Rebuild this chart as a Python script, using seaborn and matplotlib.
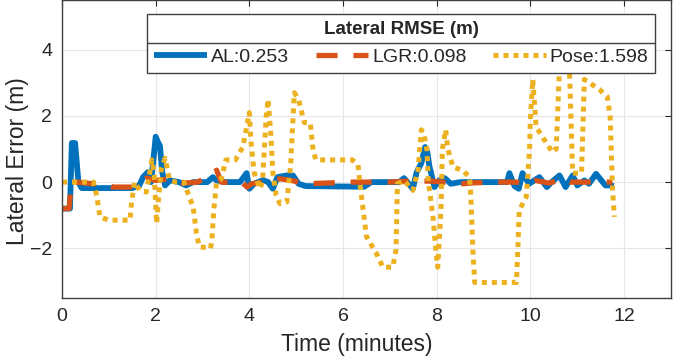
import numpy as np
import pandas as pd
import matplotlib
matplotlib.use("Agg")
import matplotlib.pyplot as plt
import seaborn as sns
from matplotlib.lines import Line2D

# AL (solid blue)
al_t = [0, 0.17, 0.21, 0.28, 0.35, 0.42, 1.5, 1.65, 1.73, 1.83, 1.9, 1.96, 2.0, 2.05,
        2.09, 2.14, 2.2, 2.3, 2.5, 2.65, 2.8, 3.1, 3.22, 3.3, 3.5, 3.8, 3.94, 4.0, 4.1,
        4.29, 4.4, 4.5, 4.6, 4.79, 4.93, 5.05, 5.2, 6.45, 6.6, 7.2, 7.3, 7.49, 7.57,
        7.67, 7.75, 7.8, 7.84, 7.95, 8.06, 8.17, 8.3, 8.5, 9.5, 9.55, 9.66, 9.75, 9.83,
        9.97, 10.19, 10.35, 10.45, 10.62, 10.75, 10.9, 11.0, 11.15, 11.25, 11.4, 11.6,
        11.7, 11.78]
al_y = [-0.8, -0.8, 1.18, 1.18, 0.0, -0.18, -0.18, -0.1, 0.15, 0.3, 0.0, 0.8, 1.37,
        1.2, 1.1, 0.3, -0.1, 0.05, 0.0, -0.1, 0.0, 0.0, 0.15, 0.05, 0.0, 0.0, 0.27,
        -0.2, -0.05, 0.06, 0.0, -0.2, 0.15, 0.2, 0.2, -0.05, -0.12, -0.14, 0.0, 0.0,
        0.12, -0.2, 0.3, 0.57, 1.06, 0.9, 0.5, -0.15, 0.06, 0.12, -0.05, 0.0, 0.0, 0.27,
        -0.12, -0.2, 0.27, -0.05, 0.15, -0.15, 0.0, 0.2, -0.15, 0.2, -0.1, 0.05, -0.05,
        0.25, -0.1, -0.1, -0.12]

# LGR (dashed red)
lgr_t = [0, 0.15, 0.2, 0.31, 0.65, 0.9, 1.09, 1.5, 1.8, 2.0, 2.3, 2.58, 2.9, 3.22,
         3.3, 3.4, 3.86, 3.95, 4.05, 4.29, 4.65, 4.9, 5.2, 5.6, 6.14, 6.43, 7.0, 7.42,
         7.9, 8.1, 8.55, 8.8, 9.4, 9.7, 9.9, 10.1, 10.4, 10.7, 10.85, 11.26, 11.6, 11.75]
lgr_y = [-0.8, -0.8, 0.0, 0.0, -0.05, -0.05, -0.15, -0.15, 0.12, 0.05, 0.1, -0.03, 0.0,
         0.27, 0.36, 0.0, -0.03, -0.15, -0.05, 0.0, 0.1, 0.05, -0.05, -0.03, 0.0, 0.0,
         0.0, 0.03, 0.03, 0.0, -0.05, -0.02, 0.0, 0.0, -0.05, 0.05, -0.03, 0.1, 0.0,
         0.0, 0.0, 0.0]

# Pose (dotted yellow)
pose_t = [0, 0.67, 0.74, 0.81, 1.0, 1.45, 1.49, 1.55, 1.66, 1.8, 1.92, 1.97, 2.02, 2.06,
          2.12, 2.2, 2.3, 2.44, 2.6, 2.8, 2.87, 2.93, 3.17, 3.2, 3.24, 3.3, 3.4, 3.5,
          3.7, 3.86, 4.0, 4.03, 4.1, 4.22, 4.28, 4.36, 4.4, 4.46, 4.5, 4.57, 4.65, 4.8,
          4.88, 4.96, 5.05, 5.17, 5.3, 5.36, 5.42, 6.2, 6.32, 6.36, 6.5, 6.71, 6.85, 7.06,
          7.13, 7.16, 7.3, 7.49, 7.6, 7.67, 7.72, 7.79, 7.82, 7.92, 7.98, 8.02, 8.09,
          8.12, 8.19, 8.24, 8.35, 8.55, 8.7, 8.73, 8.77, 8.81, 9.7, 9.73, 9.76, 9.91,
          9.98, 10.0, 10.05, 10.12, 10.34, 10.47, 10.55, 10.62, 10.72, 10.83, 10.9,
          11.09, 11.15, 11.47, 11.64, 11.7, 11.75, 11.79]
pose_y = [0, 0, -0.4, -1.05, -1.15, -1.15, -0.55, 0.0, -0.25, -0.3, 0.67, 0.2, -1.25,
          -0.5, 0.4, 0.72, 0.05, 0.0, 0.0, -0.75, -1.55, -1.95, -2.0, -1.75, -0.85, 0.0,
          0.1, 0.67, 0.67, 1.06, 2.1, 1.3, 0.3, -0.2, 0.0, 2.0, 2.5, 1.4, 0.3, -0.4,
          -0.65, -0.6, 0.5, 2.7, 2.5, 1.8, 1.78, 0.97, 0.67, 0.67, 0.52, -0.05, -1.65,
          -2.15, -2.57, -2.57, -2.05, -0.05, 0.05, -0.25, 0.36, 1.58, 1.5, 0.97, 0.0,
          -1.05, -2.05, -2.57, -0.85, 1.0, 1.58, 0.97, 0.45, 0.36, 0.15, -0.5, -2.05,
          -3.03, -3.03, -2.05, -0.85, -0.45, 0.97, 1.97, 3.1, 1.67, 1.18, 0.9, 1.0, 3.5,
          4.2, 3.5, 0.27, 0.27, 3.1, 2.8, 2.58, 2.0, -0.15, -1.05]

labels = ["AL:0.253", "LGR:0.098", "Pose:1.598"]
legend_title = "Lateral RMSE (m)"
x_ticks = [0, 2, 4, 6, 8, 10, 12]
y_ticks = [-2, 0, 2, 4]

sns.set_style("white")
plt.rcParams["font.family"] = ["Liberation Sans", "DejaVu Sans"]
dark = "#262626"

fig = plt.figure(figsize=(6.73, 3.62), dpi=100)
ax = fig.add_axes([62 / 673, 64 / 362, 609 / 673, 298 / 362])

sns.lineplot(x=al_t, y=al_y, ax=ax, color="#0072BD", linewidth=4.2, estimator=None, sort=False)
sns.lineplot(x=lgr_t, y=lgr_y, ax=ax, color="#D95319", linewidth=3.8, estimator=None, sort=False)
sns.lineplot(x=pose_t, y=pose_y, ax=ax, color="#EDB120", linewidth=3.6, estimator=None, sort=False)

l_al, l_lgr, l_pose = ax.lines[:3]
l_al.set_solid_capstyle("butt")
l_lgr.set_dashes((4, 3))
l_lgr.set_dash_capstyle("butt")
l_pose.set_dashes((1, 1))
l_pose.set_dash_capstyle("butt")

ax.set_xlim(0, 13)
ax.set_ylim(-3.5, 5.5)
ax.set_xticks(x_ticks)
ax.set_yticks(y_ticks)
ax.grid(True, color="#e6e6e6", linewidth=0.8)
ax.tick_params(direction="in", length=4, width=0.8, top=True, right=True,
               labelsize=14, colors=dark, pad=7)
for s in ax.spines.values():
    s.set_color("#404040")
    s.set_linewidth(1.0)
ax.set_xlabel("Time (minutes)", fontsize=16.5, color=dark)
ax.set_ylabel("Lateral Error (m)", fontsize=16.5, color=dark)
ax.xaxis.set_label_coords(0.4836, -0.118)
ax.yaxis.set_label_coords(-0.054, 0.46)

leg = ax.legend([l_al, l_lgr, l_pose], labels, title=legend_title, ncol=3,
                loc="upper left", bbox_to_anchor=(0.14, 0.755, 0.834, 0.198),
                mode="expand", borderaxespad=0, fontsize=14, title_fontsize=13.5,
                handlelength=2.7, handletextpad=0.2, columnspacing=1.0,
                borderpad=0.35, labelspacing=0.55, fancybox=False, framealpha=1,
                edgecolor="#404040")
leg.get_title().set_fontweight("bold")
leg.get_frame().set_linewidth(1.0)
for t in leg.get_texts():
    t.set_color(dark)

# separator between legend title and entries
fig.canvas.draw()
r = fig.canvas.get_renderer()
fb = leg.get_frame().get_window_extent(r)
tb = leg._legend_title_box.get_window_extent(r)
hb = leg._legend_handle_box.get_window_extent(r)
ysep = (tb.y0 + hb.y1) / 2
W, H = fig.get_size_inches() * fig.dpi
fig.add_artist(Line2D([fb.x0 / W, fb.x1 / W], [ysep / H, ysep / H],
                      color="#404040", linewidth=1.0, zorder=10))

fig.savefig("out.png", dpi=100)
